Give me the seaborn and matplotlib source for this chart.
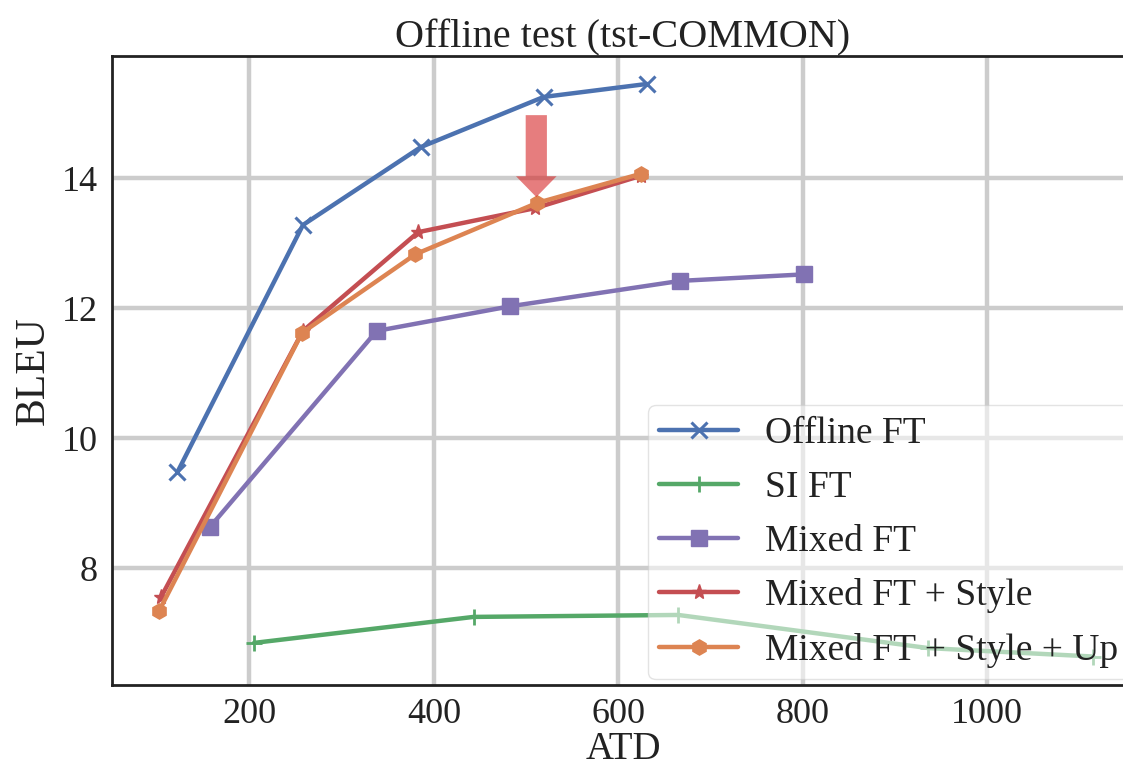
import matplotlib
matplotlib.use("Agg")
import matplotlib.pyplot as plt
import seaborn as sns
import pandas as pd
from matplotlib.patches import FancyArrow

# ---- data ----
offline_x = [122, 258, 386, 519, 631]
offline_y = [9.48, 13.28, 14.48, 15.25, 15.45]

si_x = [205, 443, 665, 936, 1115]
si_y = [6.85, 7.25, 7.28, 6.77, 6.64]

mixed_x = [157, 338, 483, 667, 801]
mixed_y = [8.63, 11.65, 12.03, 12.42, 12.52]

style_x = [104, 258, 383, 510, 625]
style_y = [7.55, 11.65, 13.17, 13.54, 14.04]

up_x = [102, 257, 380, 512, 625]
up_y = [7.34, 11.62, 12.83, 13.62, 14.07]

labels = ["Offline FT", "SI FT", "Mixed FT", "Mixed FT + Style", "Mixed FT + Style + Up"]
x_ticks = [200, 400, 600, 800, 1000]
y_ticks = [8, 10, 12, 14]

sns.set_theme(style="whitegrid", palette="deep")
plt.rcParams['font.family'] = ['Liberation Serif', 'DejaVu Serif']
plt.rcParams['axes.edgecolor'] = '#222222'
plt.rcParams['grid.color'] = '#cccccc'

pal = sns.color_palette("deep")
series = [
    (offline_x, offline_y, labels[0], pal[0], 'x', 12, 2.2),
    (si_x, si_y, labels[1], pal[2], '+', 12, 2.0),
    (mixed_x, mixed_y, labels[2], pal[4], 's', 11, 1.0),
    (style_x, style_y, labels[3], pal[3], '*', 11, 1.0),
    (up_x, up_y, labels[4], pal[1], 'h', 11, 1.0),
]

W, H = 1123, 768
left_px, right_px, top_px, bot_px = 112, 1134, 56, 684.5

fig = plt.figure(figsize=(W / 100, H / 100), dpi=100)
ax = fig.add_axes([left_px / W, 1 - bot_px / H, (right_px - left_px) / W, (bot_px - top_px) / H])

for xs, ys, lab, col, mk, ms, mew in series:
    df = pd.DataFrame({"ATD": xs, "BLEU": ys})
    sns.lineplot(data=df, x="ATD", y="BLEU", ax=ax, color=col, label=lab,
                 marker=mk, markersize=ms, markeredgewidth=mew,
                 markeredgecolor=col, linewidth=3.2, sort=False,
                 estimator=None, zorder=3)

# arrow pointing at the 4th point of the last series
ax_pt, ay_pt = up_x[3], up_y[3]
arrow = FancyArrow(ax_pt - 1, ay_pt + 1.35, 0, -1.26, width=23, head_width=44,
                   head_length=0.32, length_includes_head=True,
                   color='#d62728', alpha=0.6, linewidth=0, zorder=4)
ax.add_patch(arrow)

ax.set_xlim(51, 1159)
ax.set_ylim(6.21, 15.88)
ax.set_xticks(x_ticks)
ax.set_yticks(y_ticks)
ax.grid(True, linewidth=3.2, color='#cccccc')
for s in ax.spines.values():
    s.set_linewidth(2)
    s.set_color('#222222')

ax.tick_params(labelsize=26, colors='#222222', pad=4)
ax.set_xlabel("ATD", fontsize=28, color='#222222')
ax.set_ylabel("BLEU", fontsize=30, color='#222222')
ax.xaxis.set_label_coords(0.5, -0.074)
ax.yaxis.set_label_coords(-0.058, 0.5)
ax.set_title("Offline test (tst-COMMON)", fontsize=29, color='#222222', pad=6)

leg = ax.legend(loc='lower left', bbox_to_anchor=(648 / W, 1 - 679 / H),
                bbox_transform=fig.transFigure, borderaxespad=0,
                fontsize=27, handlelength=2.1, handletextpad=0.72,
                labelspacing=0.52, framealpha=0.55, borderpad=0.3)
for t in leg.get_texts():
    t.set_color('#222222')

fig.savefig("out.png", dpi=100)
